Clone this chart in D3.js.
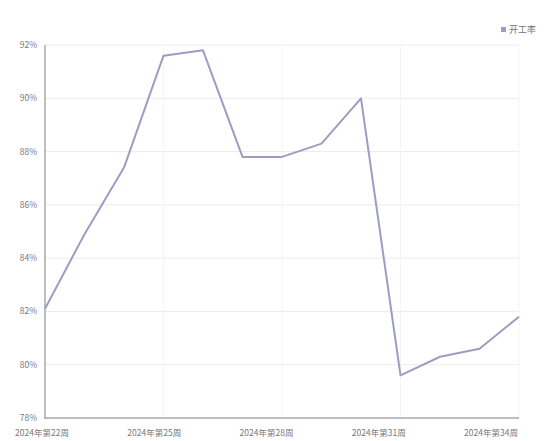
<!DOCTYPE html>
<html>
<head>
<meta charset="utf-8">
<script src="https://cdn.jsdelivr.net/npm/d3@7"></script>
<style>
  body { margin: 0; background: #fff; }
  svg text { font-family: "Noto Sans CJK SC", "Noto Sans", sans-serif; fill: #777; }
</style>
</head>
<body>
<div id="chart"></div>
<script>
// weekly operating rate (开工率), %
let weeks = [22, 23, 24, 25, 26, 27, 28, 29, 30, 31, 32, 33, 34];
let weekLabels = weeks.map(function(w){ return "2024年第" + w + "周"; });
let rateValues = [82.1, 84.9, 87.4, 91.6, 91.8, 87.8, 87.8, 88.3, 90.0, 79.6, 80.3, 80.6, 81.8];
let yTicks = [78, 80, 82, 84, 86, 88, 90, 92];
let shownWeeks = [22, 25, 28, 31, 34];
let seriesName = "开工率";

let width = 551, height = 441;
let margin = {top: 45, left: 45, right: 32, bottom: 23};

let svg = d3.select("#chart").append("svg").attr("width", width).attr("height", height);

let x = d3.scalePoint().domain(weeks).range([margin.left, width - margin.right]);
let y = d3.scaleLinear().domain([78, 92]).range([height - margin.bottom, margin.top]);
// labels sit slightly left of their ticks in the original
let xl = d3.scalePoint().domain(shownWeeks).range([42, 491]);

// grid
svg.append("g").selectAll("line").data(yTicks.slice(1)).enter().append("line")
  .attr("x1", margin.left).attr("x2", width - margin.right)
  .attr("y1", function(d){ return y(d); }).attr("y2", function(d){ return y(d); })
  .attr("stroke", "#ececec").attr("stroke-width", 1);
svg.append("g").selectAll("line").data(shownWeeks.slice(1)).enter().append("line")
  .attr("x1", function(d){ return x(d); }).attr("x2", function(d){ return x(d); })
  .attr("y1", margin.top).attr("y2", height - margin.bottom)
  .attr("stroke", "#f4f4f4").attr("stroke-width", 1);

// axes
svg.append("line").attr("x1", margin.left).attr("x2", margin.left)
  .attr("y1", margin.top).attr("y2", height - margin.bottom + 1)
  .attr("stroke", "#a8a8a8").attr("stroke-width", 1.5);
svg.append("line").attr("x1", margin.left).attr("x2", width - margin.right)
  .attr("y1", height - margin.bottom).attr("y2", height - margin.bottom)
  .attr("stroke", "#a8a8a8").attr("stroke-width", 1.5);

svg.append("g").selectAll("text").data(yTicks).enter().append("text")
  .attr("x", 37).attr("y", function(d){ return y(d) + 3; })
  .attr("text-anchor", "end").attr("font-size", 8.5)
  .text(function(d){ return d + "%"; });

svg.append("g").selectAll("text").data(shownWeeks).enter().append("text")
  .attr("x", function(d){ return xl(d); }).attr("y", 436)
  .attr("text-anchor", "middle").attr("font-size", 8.5)
  .text(function(d){ return weekLabels[weeks.indexOf(d)]; });

// line
let line = d3.line()
  .x(function(d, i){ return x(weeks[i]); })
  .y(function(d){ return y(d); });
svg.append("path").datum(rateValues)
  .attr("d", line).attr("fill", "none")
  .attr("stroke", "#9d9dc4").attr("stroke-width", 2)
  .attr("stroke-linejoin", "round");

// legend
svg.append("rect").attr("x", 501).attr("y", 27).attr("width", 5).attr("height", 5).attr("fill", "#9d9dc4");
svg.append("text").attr("x", 509).attr("y", 33).attr("font-size", 9).text(seriesName);
</script>
</body>
</html>
